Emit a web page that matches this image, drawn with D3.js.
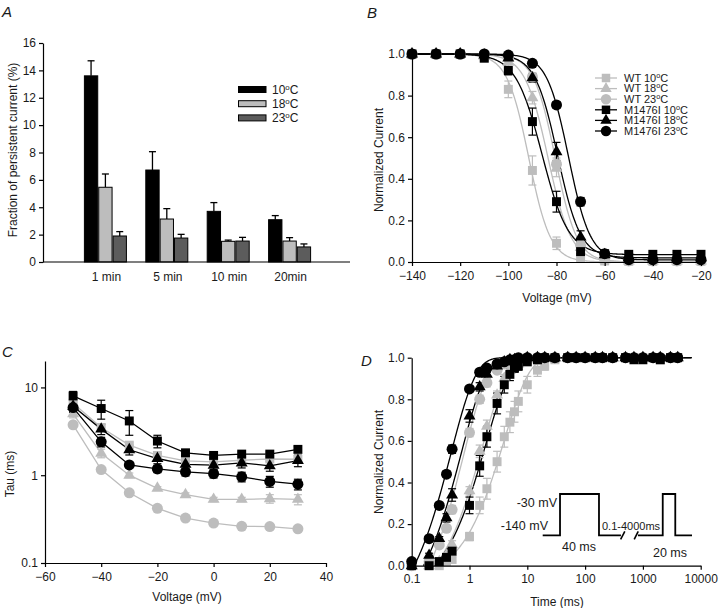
<!DOCTYPE html>
<html><head><meta charset="utf-8">
<script src="https://cdn.jsdelivr.net/npm/d3@7"></script>
<style>
body{margin:0;background:#fff;}
svg{font-family:"Liberation Sans",Arial,Helvetica,sans-serif;}
</style></head><body>
<svg id="chart" width="720" height="608"></svg>
<script>
// ---------------- Panel A data ----------------
const aCategories = ["1 min", "5 min", "10 min", "20min"];
const aTemps = ["10", "18", "23"];
const a10 = [13.6, 6.72, 3.7, 3.09];
const a10Err = [1.1, 1.34, 0.64, 0.3];
const a18 = [5.46, 3.14, 1.51, 1.53];
const a18Err = [0.97, 0.76, 0.09, 0.25];
const a23 = [1.9, 1.75, 1.53, 1.1];
const a23Err = [0.32, 0.27, 0.27, 0.22];
const aTicks = [0, 2, 4, 6, 8, 10, 12, 14, 16];

// ---------------- Panel B data ----------------
const seriesNames = ["WT 10", "WT 18", "WT 23", "M1476I 10", "M1476I 18", "M1476I 23"];
const bVoltage = [-140, -130, -120, -110, -100, -90, -80, -70, -60, -50, -40, -30, -20];
const bWT10 = [1, 1, 1, 0.98, 0.83, 0.44, 0.09, 0.02, 0.005, 0.003, 0.003, 0.003, 0.003];
const bWT10Err = [0, 0, 0, 0.01, 0.04, 0.07, 0.03, 0.01, 0, 0, 0, 0, 0];
const bWT18 = [1, 1, 1, 0.99, 0.96, 0.79, 0.45, 0.07, 0.01, 0.005, 0.005, 0.005, 0.005];
const bWT18Err = [0, 0, 0, 0.01, 0.02, 0.03, 0.04, 0.02, 0, 0, 0, 0, 0];
const bWT23 = [1, 1, 1, 1, 0.98, 0.89, 0.47, 0.08, 0.01, 0.005, 0.005, 0.005, 0.005];
const bWT23Err = [0, 0, 0, 0, 0.01, 0.02, 0.03, 0.02, 0, 0, 0, 0, 0];
const bM10 = [1, 1, 1, 0.98, 0.92, 0.675, 0.29, 0.05, 0.04, 0.037, 0.037, 0.037, 0.037];
const bM10Err = [0, 0, 0, 0.01, 0.02, 0.065, 0.05, 0.01, 0.01, 0.01, 0.01, 0.01, 0.01];
const bM18 = [1, 1, 1, 0.995, 0.98, 0.885, 0.53, 0.12, 0.035, 0.02, 0.02, 0.02, 0.02];
const bM18Err = [0, 0, 0, 0, 0.01, 0.02, 0.045, 0.03, 0.01, 0.01, 0.01, 0.01, 0.01];
const bM23 = [1, 1, 1, 1, 0.995, 0.955, 0.755, 0.29, 0.04, 0.011, 0.011, 0.011, 0.011];
const bM23Err = [0, 0, 0, 0, 0.005, 0.01, 0.015, 0.02, 0.01, 0.005, 0.005, 0.005, 0.005];
// Boltzmann fit parameters (V1/2, slope k, residual)
const bHalf = [-91.5, -83.5, -80.5, -86, -79.5, -75];
const bSlope = [4.5, 4.8, 4.5, 5.5, 4.7, 4.5];
const bBase = [0, 0, 0, 0.035, 0.02, 0.01];
const bXTicks = [-140, -120, -100, -80, -60, -40, -20];
const bYTicks = [0, 0.2, 0.4, 0.6, 0.8, 1.0];

// ---------------- Panel C data ----------------
const cVoltage = [-50, -40, -30, -20, -10, 0, 10, 20, 30];
const cWT10 = [6.6, 3.5, 2.2, 1.68, 1.46, 1.42, 1.48, 1.53, 1.52];
const cWT10Err = [0.6, 0.3, 0.15, 0.1, 0.08, 0.08, 0.08, 0.1, 0.1];
const cWT18 = [5.0, 1.78, 1.0, 0.71, 0.6, 0.53, 0.53, 0.54, 0.53];
const cWT18Err = [0.5, 0.2, 0.06, 0.03, 0.03, 0.03, 0.03, 0.06, 0.07];
const cWT23 = [3.75, 1.16, 0.63, 0.42, 0.325, 0.285, 0.262, 0.26, 0.245];
const cWT23Err = [0.2, 0.05, 0.02, 0.01, 0.01, 0.01, 0.01, 0.01, 0.01];
const cM10 = [8.0, 5.75, 4.15, 2.45, 1.8, 1.68, 1.74, 1.74, 1.97];
const cM10Err = [1.0, 1.4, 1.3, 0.4, 0.12, 0.1, 0.1, 0.1, 0.15];
const cM18 = [6.1, 3.35, 1.95, 1.55, 1.33, 1.3, 1.38, 1.28, 1.47];
const cM18Err = [0.7, 0.45, 0.25, 0.2, 0.17, 0.15, 0.17, 0.17, 0.22];
const cM23 = [5.9, 2.4, 1.31, 1.18, 1.09, 1.04, 0.96, 0.85, 0.79];
const cM23Err = [0.7, 0.3, 0.09, 0.11, 0.11, 0.11, 0.12, 0.12, 0.11];
const cXTicks = [-60, -40, -20, 0, 20, 40];
const cYTicks = [0.1, 1, 10];

// ---------------- Panel D data ----------------
const dTime = [0.1, 0.2, 0.3, 0.4, 0.5, 1, 1.5, 2, 3, 4, 5, 6, 7, 10, 15, 20, 30, 50, 70, 100, 150, 200, 300, 500, 700, 1000, 1500, 2000, 3000, 4000];
const dWT10 = [0, 0, 0, 0.02, 0.03, 0.14, 0.29, 0.37, 0.5, 0.62, 0.69, 0.74, 0.79, 0.87, 0.94, 0.96, 0.99, 1, 1, 1, 1, 1, 1, 1, 1, 1, 1, 0.99, 1, 1];
const dWT10Err = [0, 0, 0, 0, 0.01, 0.02, 0.04, 0.05, 0.05, 0.05, 0.05, 0.05, 0.05, 0.04, 0.03, 0.02, 0.01, 0, 0, 0, 0, 0, 0, 0, 0, 0, 0, 0, 0, 0];
const dWT18 = [0, 0, 0.02, 0.05, 0.1, 0.36, 0.55, 0.67, 0.82, 0.9, 0.94, 0.96, 0.97, 0.99, 1, 1, 1, 1, 1, 1, 1, 1, 1, 1, 1, 1, 1, 1, 1, 1];
const dWT18Err = [0, 0, 0, 0.01, 0.02, 0.02, 0.03, 0.03, 0.02, 0.02, 0.01, 0.01, 0.01, 0, 0, 0, 0, 0, 0, 0, 0, 0, 0, 0, 0, 0, 0, 0, 0, 0];
const dWT23 = [0, 0.02, 0.1, 0.18, 0.27, 0.64, 0.8, 0.88, 0.94, 0.97, 0.98, 0.99, 0.99, 1, 1, 1, 1, 1, 1, 1, 1, 1, 1, 1, 1, 1, 1, 1, 1, 1];
const dWT23Err = [0, 0, 0.01, 0.01, 0.02, 0.02, 0.02, 0.02, 0.01, 0.01, 0, 0, 0, 0, 0, 0, 0, 0, 0, 0, 0, 0, 0, 0, 0, 0, 0, 0, 0, 0];
const dM10 = [0, 0, 0.02, 0.04, 0.07, 0.29, 0.48, 0.62, 0.78, 0.87, 0.92, 0.95, 0.96, 0.98, 0.99, 1, 1, 1, 1, 1, 1, 1, 1, 1, 0.99, 0.99, 1, 0.99, 1, 1];
const dM10Err = [0, 0, 0, 0.01, 0.01, 0.04, 0.05, 0.05, 0.05, 0.04, 0.03, 0.02, 0.02, 0.01, 0.01, 0, 0, 0, 0, 0, 0, 0, 0, 0, 0, 0, 0, 0, 0, 0];
const dM18 = [0, 0.05, 0.13, 0.23, 0.34, 0.72, 0.86, 0.92, 0.96, 0.98, 0.99, 0.99, 0.99, 1, 1, 1, 1, 1, 1, 1, 1, 1, 1, 1, 1, 1, 1, 1, 1, 1];
const dM18Err = [0, 0.01, 0.01, 0.02, 0.03, 0.03, 0.02, 0.01, 0.01, 0, 0, 0, 0, 0, 0, 0, 0, 0, 0, 0, 0, 0, 0, 0, 0, 0, 0, 0, 0, 0];
const dM23 = [0.02, 0.13, 0.29, 0.44, 0.56, 0.85, 0.93, 0.95, 0.97, 0.98, 0.99, 0.99, 1, 1, 1, 1, 1, 1, 1, 1, 1, 1, 1, 1, 1, 1, 1, 1, 1, 1];
const dM23Err = [0, 0.01, 0.01, 0.015, 0.02, 0.01, 0.01, 0.01, 0, 0, 0, 0, 0, 0, 0, 0, 0, 0, 0, 0, 0, 0, 0, 0, 0, 0, 0, 0, 0, 0];
// delayed-exponential fit parameters (delay, tau)
const dDelay = [0.3, 0.25, 0.2, 0.25, 0.16, 0.11];
const dTau = [4.0, 1.68, 0.78, 1.9, 0.72, 0.475];
const dXTicks = [0.1, 1, 10, 100, 1000, 10000];
const dYTicks = [0, 0.2, 0.4, 0.6, 0.8, 1.0];

// ---------------- drawing ----------------
const svg = d3.select("#chart");
const LIGHT = "#bdbdbd", DARKG = "#5c5c5c", BLACK = "#000", TXT = "#1a1a1a";
const seriesColor = i => i < 3 ? LIGHT : BLACK;
const symTypes = [d3.symbolSquare, d3.symbolTriangle, d3.symbolCircle];
const symSizes = [80, 62, 95];
const sym = (i, k = 1) => d3.symbol().type(symTypes[i % 3]).size(symSizes[i % 3] * k)();

function styleAxis(g) {
  g.selectAll("path,line").attr("stroke", "#000").attr("stroke-width", 1.2);
  g.selectAll("text").attr("font-size", 12).attr("fill", TXT).attr("font-family", "Liberation Sans, Arial, sans-serif");
}
function degText(sel, prefix, sup) {
  sel.append("tspan").text(prefix);
  sel.append("tspan").attr("dy", -sup).attr("font-size", "0.66em").text("o");
  sel.append("tspan").attr("dy", sup).text("C");
}
function panelLabel(x, y, t) {
  svg.append("text").attr("x", x).attr("y", y).attr("font-size", 15).attr("font-style", "italic").attr("fill", TXT).text(t);
}
function yLabel(x, y, t) {
  svg.append("text").attr("transform", `translate(${x},${y}) rotate(-90)`).attr("text-anchor", "middle")
    .attr("font-size", 12).attr("fill", TXT).text(t);
}
function xLabel(x, y, t) {
  svg.append("text").attr("x", x).attr("y", y).attr("text-anchor", "middle").attr("font-size", 12).attr("fill", TXT).text(t);
}
function errBars(g, xs, ys, es, xScale, yScale, color, cap) {
  xs.forEach((x, i) => {
    if (!es[i]) return;
    const px = xScale(x), y1 = yScale(Math.max(ys[i] - es[i], 1e-9)), y2 = yScale(ys[i] + es[i]);
    g.append("line").attr("x1", px).attr("x2", px).attr("y1", y1).attr("y2", y2).attr("stroke", color).attr("stroke-width", 1.2);
    [y1, y2].forEach(yy => g.append("line").attr("x1", px - cap).attr("x2", px + cap).attr("y1", yy).attr("y2", yy).attr("stroke", color).attr("stroke-width", 1.2));
  });
}
function markers(g, xs, ys, xScale, yScale, i) {
  g.selectAll(null).data(xs.map((x, k) => [x, ys[k]])).enter().append("path")
    .attr("d", sym(i)).attr("transform", d => `translate(${xScale(d[0])},${yScale(d[1])})`)
    .attr("fill", seriesColor(i));
}

// ===== Panel A =====
panelLabel(2, 17, "A");
const aX = d3.scalePoint().domain(aCategories).range([44, 351]).padding(1);
const aY = d3.scaleLinear().domain([0, 16]).range([262, 43]);
const aSub = d3.scaleBand().domain(aTemps).range([-21.5, 21.5]);
const aSeries = [
  { t: "10", v: a10, e: a10Err, fill: BLACK },
  { t: "18", v: a18, e: a18Err, fill: LIGHT },
  { t: "23", v: a23, e: a23Err, fill: DARKG }
];
const aG = svg.append("g");
aSeries.forEach(s => {
  aCategories.forEach((c, i) => {
    const x0 = aX(c) + aSub(s.t), w = aSub.bandwidth();
    const top = aY(s.v[i] + s.e[i]), cx = x0 + w / 2;
    aG.append("line").attr("x1", cx).attr("x2", cx).attr("y1", aY(s.v[i])).attr("y2", top).attr("stroke", "#000").attr("stroke-width", 1.3);
    aG.append("line").attr("x1", cx - 3.5).attr("x2", cx + 3.5).attr("y1", top).attr("y2", top).attr("stroke", "#000").attr("stroke-width", 1.3);
    aG.append("rect").attr("x", x0 + 0.5).attr("y", aY(s.v[i])).attr("width", w - 1).attr("height", aY(0) - aY(s.v[i]))
      .attr("fill", s.fill).attr("stroke", "#000").attr("stroke-width", 1);
  });
});
svg.append("g").attr("transform", "translate(43,0)")
  .call(d3.axisLeft(aY).tickValues(aTicks).tickSize(4).tickPadding(3).tickSizeOuter(0)).call(styleAxis);
svg.append("line").attr("x1", 43).attr("x2", 350).attr("y1", 262).attr("y2", 262).attr("stroke", "#000").attr("stroke-width", 1.2);
aCategories.forEach(c => svg.append("text").attr("x", aX(c) + 1).attr("y", 281).attr("text-anchor", "middle").attr("font-size", 12).attr("fill", TXT).text(c));
yLabel(17, 150, "Fraction of persistent current (%)");
// legend A
aSeries.forEach((s, i) => {
  const yy = 89.5 + i * 14.2;
  svg.append("rect").attr("x", 238.5).attr("y", yy - 3).attr("width", 27.5).attr("height", 6).attr("fill", s.fill).attr("stroke", "#000").attr("stroke-width", 1);
  degText(svg.append("text").attr("x", 272).attr("y", yy + 4.5).attr("font-size", 12).attr("fill", TXT), s.t, 4.5);
});

// ===== Panel B =====
panelLabel(367, 18, "B");
const bX = d3.scaleLinear().domain([-140, -20]).range([412, 701]);
const bY = d3.scaleLinear().domain([0, 1]).range([262, 54]);
const bData = [bWT10, bWT18, bWT23, bM10, bM18, bM23];
const bErr = [bWT10Err, bWT18Err, bWT23Err, bM10Err, bM18Err, bM23Err];
const bG = svg.append("g");
const bFitV = d3.range(-140, -19.9, 0.5);
bData.forEach((d, i) => {
  const f = v => bBase[i] + (1 - bBase[i]) / (1 + Math.exp((v - bHalf[i]) / bSlope[i]));
  bG.append("path").attr("d", d3.line().x(v => bX(v)).y(v => bY(f(v)))(bFitV))
    .attr("fill", "none").attr("stroke", seriesColor(i)).attr("stroke-width", 1.3);
});
bData.forEach((d, i) => errBars(bG, bVoltage, d, bErr[i], bX, bY, seriesColor(i), 4));
bData.forEach((d, i) => markers(bG, bVoltage, d, bX, bY, i));
svg.append("g").attr("transform", "translate(0,262)")
  .call(d3.axisBottom(bX).tickValues(bXTicks).tickSize(4).tickPadding(5).tickSizeOuter(0)).call(styleAxis);
svg.append("g").attr("transform", "translate(412,0)")
  .call(d3.axisLeft(bY).tickValues(bYTicks).tickFormat(d3.format(".1f")).tickSize(4).tickPadding(3).tickSizeOuter(0)).call(styleAxis);
xLabel(557, 302, "Voltage (mV)");
yLabel(383, 160, "Normalized Current");
// legend B
seriesNames.forEach((n, i) => {
  const yy = 78 + i * 10.6;
  svg.append("line").attr("x1", 595).attr("x2", 617).attr("y1", yy).attr("y2", yy).attr("stroke", seriesColor(i)).attr("stroke-width", 1.3);
  svg.append("path").attr("d", sym(i, 0.9)).attr("transform", `translate(606,${yy})`).attr("fill", seriesColor(i));
  degText(svg.append("text").attr("x", 624).attr("y", yy + 3.8).attr("font-size", 11).attr("fill", TXT), n, 4);
});

// ===== Panel C =====
panelLabel(2, 357, "C");
const cX = d3.scaleLinear().domain([-60, 40]).range([45, 326]);
const cY = d3.scaleLog().domain([0.1, 20]).range([563, 361]);
const cData = [cWT10, cWT18, cWT23, cM10, cM18, cM23];
const cErr = [cWT10Err, cWT18Err, cWT23Err, cM10Err, cM18Err, cM23Err];
const cG = svg.append("g");
const cLine = d3.line().x(d => cX(d[0])).y(d => cY(d[1]));
const drawOrder = [0, 1, 2, 3, 4, 5];
drawOrder.forEach(i => {
  cG.append("path").attr("d", cLine(cVoltage.map((v, k) => [v, cData[i][k]])))
    .attr("fill", "none").attr("stroke", seriesColor(i)).attr("stroke-width", 1.3);
});
drawOrder.forEach(i => errBars(cG, cVoltage, cData[i], cErr[i], cX, cY, seriesColor(i), 4));
drawOrder.forEach(i => markers(cG, cVoltage, cData[i], cX, cY, i));
svg.append("g").attr("transform", "translate(0,563)")
  .call(d3.axisBottom(cX).tickValues(cXTicks).tickSize(4).tickPadding(5).tickSizeOuter(0)).call(styleAxis);
svg.append("g").attr("transform", "translate(45,0)")
  .call(d3.axisLeft(cY).tickValues(cYTicks).tickFormat(d => String(d)).tickSize(4).tickPadding(3).tickSizeOuter(0)).call(styleAxis);
xLabel(187, 601, "Voltage (mV)");
yLabel(14, 474, "Tau (ms)");

// ===== Panel D =====
panelLabel(361, 366, "D");
const dX = d3.scaleLog().domain([0.1, 10000]).range([411.7, 700.7]);
const dY = d3.scaleLinear().domain([0, 1]).range([565.7, 357.7]);
const dData = [dWT10, dWT18, dWT23, dM10, dM18, dM23];
const dErr = [dWT10Err, dWT18Err, dWT23Err, dM10Err, dM18Err, dM23Err];
const dG = svg.append("g");
dData.forEach((d, i) => {
  const f = t => 1 - Math.exp(-(t - dDelay[i]) / dTau[i]);
  const ts = d3.range(Math.log10(dDelay[i]), Math.log10(7000), 0.01).map(v => Math.pow(10, v));
  dG.append("path").attr("d", d3.line().x(t => dX(t)).y(t => dY(f(t)))(ts))
    .attr("fill", "none").attr("stroke", seriesColor(i)).attr("stroke-width", 1.3);
});
dData.forEach((d, i) => errBars(dG, dTime, d, dErr[i], dX, dY, seriesColor(i), 4));
dData.forEach((d, i) => markers(dG, dTime, d, dX, dY, i));
svg.append("g").attr("transform", "translate(0,565.7)")
  .call(d3.axisBottom(dX).tickValues(dXTicks).tickFormat(d => String(d)).tickSize(4).tickPadding(5).tickSizeOuter(0)).call(styleAxis);
svg.append("g").attr("transform", "translate(411.7,0)")
  .call(d3.axisLeft(dY).tickValues(dYTicks).tickFormat(d3.format(".1f")).tickSize(4).tickPadding(3).tickSizeOuter(0)).call(styleAxis);
xLabel(557, 606, "Time (ms)");
yLabel(383, 462, "Normalized Current");

// protocol inset (schematic units: x 0-100, voltage in mV)
const pX = d3.scaleLinear().domain([0, 100]).range([542.7, 692]);
const pV = d3.scaleLinear().domain([-140, -30]).range([535.3, 494]);
const protoA = [[0, -140], [11.6, -140], [11.6, -30], [37.7, -30], [37.7, -140], [52.4, -140]];
const protoB = [[63.8, -140], [80.4, -140], [80.4, -30], [88.8, -30], [88.8, -140], [100, -140]];
const pLine = d3.line().x(d => pX(d[0])).y(d => pV(d[1]));
[protoA, protoB].forEach(p => svg.append("path").attr("d", pLine(p)).attr("fill", "none").attr("stroke", "#000").attr("stroke-width", 1.8));
[[52.2, 55.0], [61.3, 64.0]].forEach(s => svg.append("line")
  .attr("x1", pX(s[0])).attr("y1", pV(-140) + 4).attr("x2", pX(s[1])).attr("y2", pV(-140) - 4)
  .attr("stroke", "#000").attr("stroke-width", 1.6));
svg.append("text").attr("x", 557).attr("y", 507).attr("text-anchor", "end").attr("font-size", 12.5).attr("fill", TXT).text("-30 mV");
svg.append("text").attr("x", 548).attr("y", 530).attr("text-anchor", "end").attr("font-size", 12.5).attr("fill", TXT).text("-140 mV");
svg.append("text").attr("x", 579).attr("y", 551).attr("text-anchor", "middle").attr("font-size", 12.5).attr("fill", TXT).text("40 ms");
svg.append("text").attr("x", 631).attr("y", 530).attr("text-anchor", "middle").attr("font-size", 11).attr("fill", TXT).text("0.1-4000ms");
svg.append("text").attr("x", 670).attr("y", 557).attr("text-anchor", "middle").attr("font-size", 12.5).attr("fill", TXT).text("20 ms");
</script></body></html>
